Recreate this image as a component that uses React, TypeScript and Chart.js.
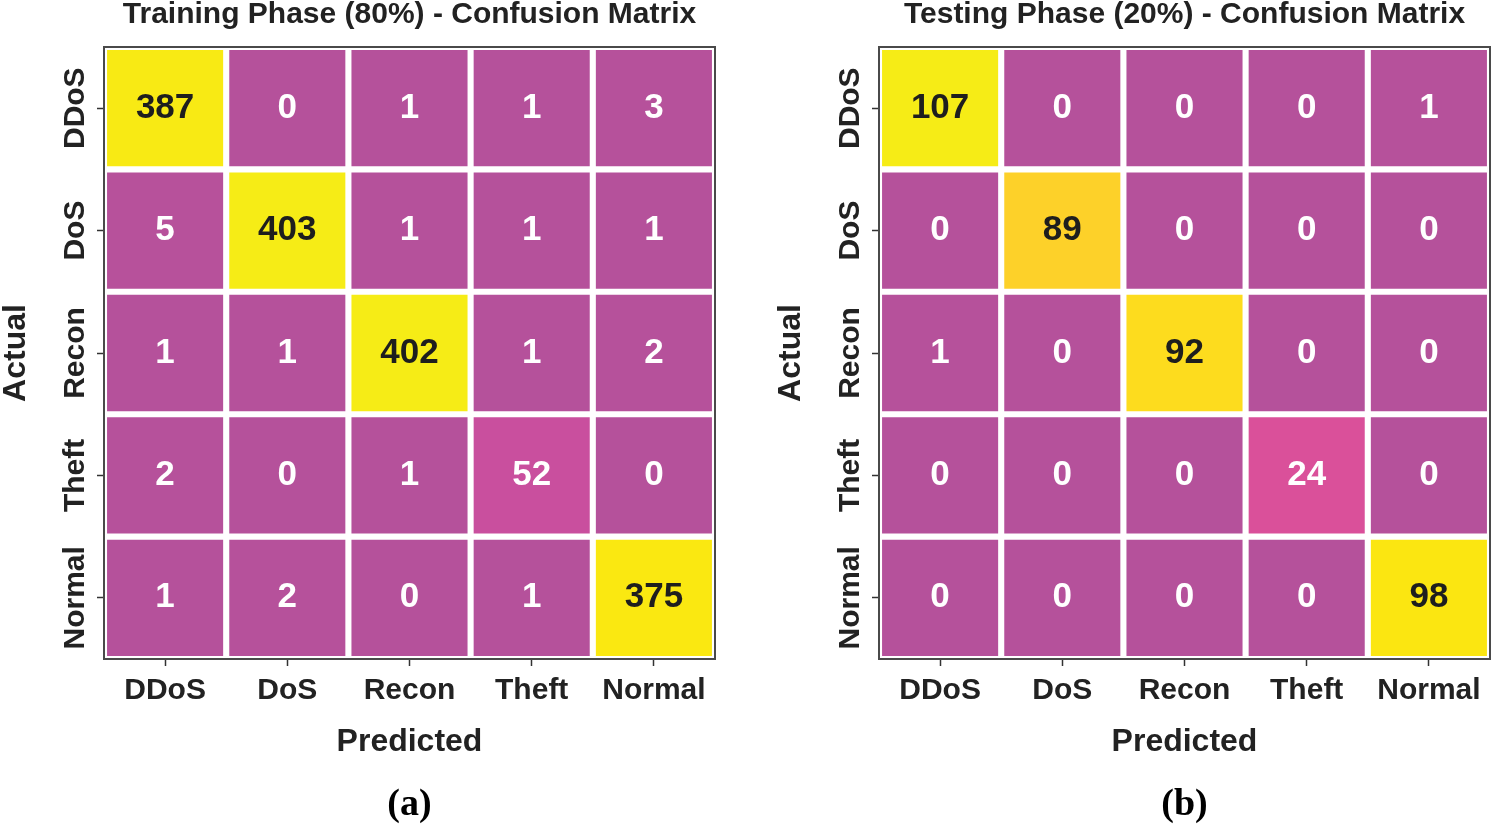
import React, { useEffect, useRef } from "react";
import { Chart, registerables } from "chart.js";

Chart.register(...registerables);

const classes = ["DDoS", "DoS", "Recon", "Theft", "Normal"];

const trainMatrix = [
  [387, 0, 1, 1, 3],
  [5, 403, 1, 1, 1],
  [1, 1, 402, 1, 2],
  [2, 0, 1, 52, 0],
  [1, 2, 0, 1, 375],
];

const testMatrix = [
  [107, 0, 0, 0, 1],
  [0, 89, 0, 0, 0],
  [1, 0, 92, 0, 0],
  [0, 0, 0, 24, 0],
  [0, 0, 0, 0, 98],
];

const trainTitle = "Training Phase (80%) - Confusion Matrix";
const testTitle = "Testing Phase (20%) - Confusion Matrix";
const xTitle = "Predicted";
const yTitle = "Actual";

const SANS = "'Liberation Sans', Arial, Helvetica, sans-serif";
const SERIF = "'Liberation Serif', 'Times New Roman', serif";

// colour map stops: [t, r, g, b]
const cmapStops: number[][] = [
  [0, 181, 81, 155],
  [0.13, 201, 79, 158],
  [0.22, 218, 79, 155],
  [0.5, 240, 120, 105],
  [0.83, 253, 208, 42],
  [0.86, 253, 220, 30],
  [0.92, 251, 231, 16],
  [0.96, 248, 234, 20],
  [1, 246, 236, 22],
];

function cmap(t: number): string {
  const v = Math.max(0, Math.min(1, t));
  for (let i = 1; i < cmapStops.length; i++) {
    const a = cmapStops[i - 1];
    const b = cmapStops[i];
    if (v <= b[0]) {
      const f = (v - a[0]) / (b[0] - a[0] || 1);
      const r = Math.round(a[1] + (b[1] - a[1]) * f);
      const g = Math.round(a[2] + (b[2] - a[2]) * f);
      const bl = Math.round(a[3] + (b[3] - a[3]) * f);
      return `rgb(${r},${g},${bl})`;
    }
  }
  const l = cmapStops[cmapStops.length - 1];
  return `rgb(${l[1]},${l[2]},${l[3]})`;
}

const framePlugin = {
  id: "frame",
  afterDatasetsDraw(chart: any) {
    const { ctx, chartArea } = chart;
    ctx.save();
    ctx.strokeStyle = "#4a4a4a";
    ctx.lineWidth = 2;
    ctx.strokeRect(chartArea.left, chartArea.top, chartArea.right - chartArea.left, chartArea.bottom - chartArea.top);
    ctx.restore();
  },
};

const valuePlugin = {
  id: "cellValues",
  afterDatasetsDraw(chart: any) {
    const { ctx } = chart;
    const max = chart.options.plugins.cellValues.max;
    ctx.save();
    ctx.font = `bold 35px ${SANS}`;
    ctx.textAlign = "center";
    ctx.textBaseline = "middle";
    chart.data.datasets.forEach((ds: any, di: number) => {
      const meta = chart.getDatasetMeta(di);
      meta.data.forEach((el: any, j: number) => {
        const v = ds.values[j];
        const cy = (el.y + el.base) / 2;
        ctx.fillStyle = v / max > 0.5 ? "#1e1e1e" : "#ffffff";
        ctx.fillText(String(v), el.x, cy);
      });
    });
    ctx.restore();
  },
};

function makeConfig(matrix: number[][], title: string, caption: string, padRight: number): any {
  const max = Math.max(...matrix.map((r) => Math.max(...r)));
  const datasets = matrix.map((row, r) => ({
    label: classes[r],
    data: row.map(() => [r + 0.025, r + 0.975]),
    values: row,
    backgroundColor: row.map((v) => cmap(v / max)),
    borderWidth: 0,
    grouped: false,
    barPercentage: 0.95,
    categoryPercentage: 1,
  }));
  return {
    type: "bar",
    data: { labels: classes, datasets },
    plugins: [framePlugin, valuePlugin],
    options: {
      animation: false,
      responsive: true,
      maintainAspectRatio: false,
      events: [],
      layout: { padding: { left: 0, right: padRight, top: 0, bottom: 0 } },
      plugins: {
        legend: { display: false },
        tooltip: { enabled: false },
        cellValues: { max },
        title: {
          display: true,
          fullSize: false,
          text: title,
          color: "#222",
          font: { family: SANS, size: 30, weight: "bold", lineHeight: 1.0 },
          padding: { top: 0, bottom: 17 },
        },
        subtitle: {
          display: true,
          fullSize: false,
          position: "bottom",
          text: caption,
          color: "#000",
          font: { family: SERIF, size: 38, weight: "bold", lineHeight: 1.2 },
          padding: { top: 13.2, bottom: 0.2 },
        },
      },
      scales: {
        x: {
          type: "category",
          offset: true,
          grid: {
            display: true,
            drawOnChartArea: false,
            drawTicks: true,
            tickLength: 7,
            tickColor: "#333",
            tickWidth: 1.5,
            offset: false,
          },
          border: { display: false },
          ticks: {
            color: "#222",
            font: { family: SANS, size: 30, weight: "bold", lineHeight: 1.2 },
            padding: 6.5,
            maxRotation: 0,
            autoSkip: false,
          },
          title: {
            display: true,
            text: xTitle,
            color: "#222",
            font: { family: SANS, size: 32, weight: "bold", lineHeight: 1.2 },
            padding: { top: 0, bottom: 7.8 },
          },
          afterFit: (s: any) => {
            s.height = 110;
          },
        },
        y: {
          type: "linear",
          min: 0,
          max: 5,
          reverse: true,
          afterBuildTicks: (s: any) => {
            s.ticks = classes.map((_, i) => ({ value: i + 0.5 }));
          },
          grid: {
            display: true,
            drawOnChartArea: false,
            drawTicks: true,
            tickLength: 7,
            tickColor: "#333",
            tickWidth: 1.5,
          },
          border: { display: false },
          ticks: {
            color: "#222",
            font: { family: SANS, size: 30, weight: "bold", lineHeight: 1.2 },
            padding: -30,
            minRotation: 90,
            maxRotation: 90,
            crossAlign: "center",
            autoSkip: false,
            callback: (v: number) => classes[Math.floor(v)],
          },
          title: {
            display: true,
            text: yTitle,
            color: "#222",
            font: { family: SANS, size: 32, weight: "bold", lineHeight: 1 },
            padding: { top: 0, bottom: 0 },
          },
          afterFit: (s: any) => {
            s.width = 104;
          },
        },
      },
    },
  };
}

function MatrixChart(props: { matrix: number[][]; title: string; caption: string; padRight: number; left: number; width: number }) {
  const ref = useRef<HTMLCanvasElement | null>(null);
  useEffect(() => {
    if (!ref.current) return;
    const chart = new Chart(ref.current, makeConfig(props.matrix, props.title, props.caption, props.padRight));
    return () => chart.destroy();
  }, []);
  return (
    <div style={{ position: "absolute", left: props.left, top: 0, width: props.width, height: 828 }}>
      <canvas ref={ref} />
    </div>
  );
}

export default function App() {
  return (
    <div style={{ position: "absolute", left: 0, top: 0, width: 1495, height: 828, background: "#fff" }}>
      <MatrixChart matrix={trainMatrix} title={trainTitle} caption="(a)" padRight={60} left={0} width={775} />
      <MatrixChart matrix={testMatrix} title={testTitle} caption="(b)" padRight={5} left={775} width={720} />
    </div>
  );
}
